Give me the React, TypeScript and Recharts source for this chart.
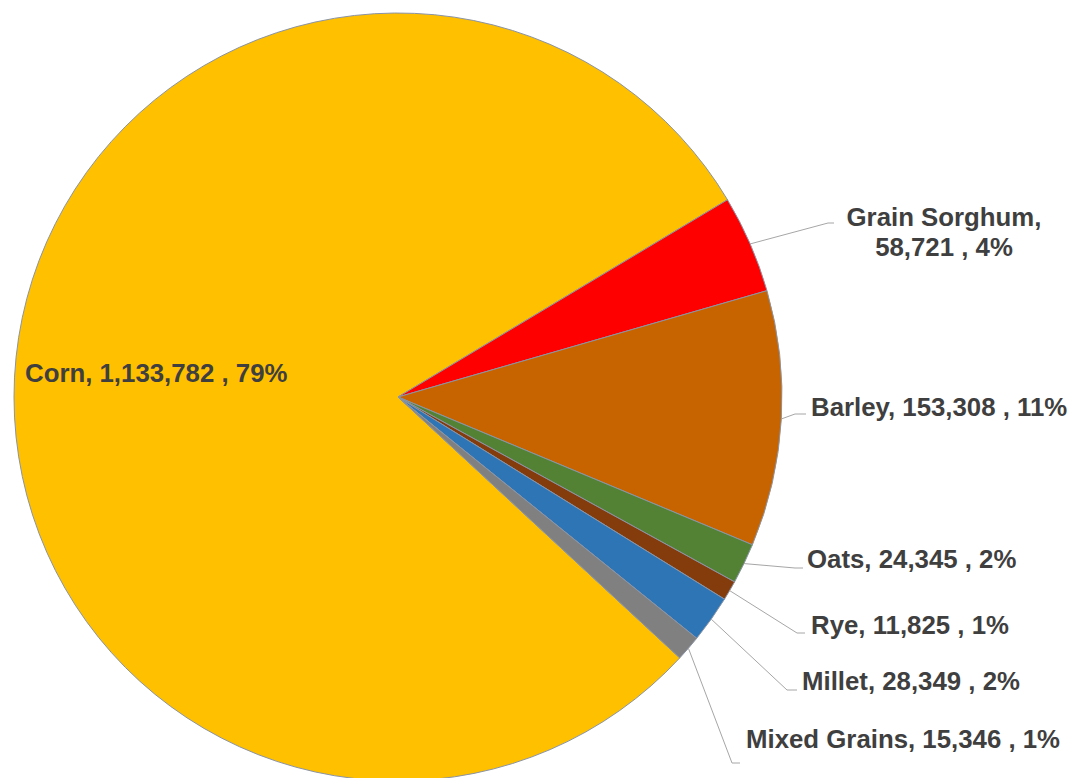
import React from "react";
import { PieChart, Pie, Cell } from "recharts";

const categories = ["Corn", "Grain Sorghum", "Barley", "Oats", "Rye", "Millet", "Mixed Grains"];
const values = [1133782, 58721, 153308, 24345, 11825, 28349, 15346];
const colors = ["#FFC000", "#FF0000", "#C86400", "#548235", "#843C0C", "#2E75B6", "#808080"];

const data = categories.map((name, i) => ({ name, value: values[i] }));

// percentages rounded so that they add up to 100 (largest remainder)
const total = values.reduce((a, b) => a + b, 0);
const rawPct = values.map((v) => (v / total) * 100);
const floored = rawPct.map((p) => Math.floor(p));
let missing = 100 - floored.reduce((a, b) => a + b, 0);
const order = rawPct.map((p, i) => ({ i, r: p - Math.floor(p) })).sort((a, b) => b.r - a.r);
const pctLabels = [...floored];
for (let k = 0; k < missing; k++) pctLabels[order[k].i] += 1;
const pctByName: Record<string, number> = {};
categories.forEach((c, i) => (pctByName[c] = pctLabels[i]));

// label layout (text placement and leader-line elbow), keyed by category
type Layout = { x: number; y: number; anchor: "start" | "middle"; lines: number; ex?: number; ey?: number; end?: number };
const labelLayout: Record<string, Layout> = {
  Corn: { x: 25, y: 382, anchor: "start", lines: 1 },
  "Grain Sorghum": { x: 944, y: 226, anchor: "middle", lines: 2, ex: 828, ey: 223, end: 834 },
  Barley: { x: 811, y: 416, anchor: "start", lines: 1, ex: 795, ey: 414, end: 806 },
  Oats: { x: 807, y: 568, anchor: "start", lines: 1, ex: 795, ey: 568, end: 803 },
  Rye: { x: 811, y: 634, anchor: "start", lines: 1, ex: 797, ey: 633, end: 805 },
  Millet: { x: 802, y: 690, anchor: "start", lines: 1, ex: 787, ey: 690, end: 797 },
  "Mixed Grains": { x: 746, y: 748, anchor: "start", lines: 1, ex: 732, ey: 763, end: 740 },
};

const RAD = Math.PI / 180;
const fmt = (v: number) => v.toLocaleString("en-US");

const renderLabel = (props: any) => {
  const { cx, cy, midAngle, outerRadius, name, value } = props;
  const lay = labelLayout[name];
  if (!lay) return null;
  const pct = pctByName[name] + "%";
  const textStyle = {
    fontFamily: "'Liberation Sans', Arial, sans-serif",
    fontWeight: 700,
    fontSize: 25.8,
    fill: "#3F3F3F",
  } as const;
  let leader = null;
  if (lay.ex !== undefined) {
    const sx = cx + outerRadius * Math.cos(-midAngle * RAD);
    const sy = cy + outerRadius * Math.sin(-midAngle * RAD);
    leader = (
      <polyline
        points={`${sx},${sy} ${lay.ex},${lay.ey} ${lay.end},${lay.ey}`}
        fill="none"
        stroke="#A6A6A6"
        strokeWidth={1}
      />
    );
  }
  return (
    <g key={`lbl-${name}`}>
      {leader}
      {lay.lines === 2 ? (
        <text x={lay.x} y={lay.y} textAnchor={lay.anchor} style={textStyle}>
          <tspan x={lay.x} y={lay.y}>{`${name},`}</tspan>
          <tspan x={lay.x} y={lay.y + 30}>{`${fmt(value)} , ${pct}`}</tspan>
        </text>
      ) : (
        <text x={lay.x} y={lay.y} textAnchor={lay.anchor} style={textStyle}>
          {`${name}, ${fmt(value)} , ${pct}`}
        </text>
      )}
    </g>
  );
};

export default function App() {
  return (
    <div style={{ position: "absolute", left: 0, top: 0, width: 1076, height: 778, background: "#fff" }}>
      <PieChart width={1076} height={778} margin={{ top: 0, right: 0, bottom: 0, left: 0 }}>
        <Pie
          data={data}
          dataKey="value"
          nameKey="name"
          cx={398}
          cy={397}
          outerRadius={384}
          startAngle={317.2}
          endAngle={-42.8}
          stroke="#8A94A6"
          strokeWidth={1}
          label={renderLabel}
          labelLine={false}
          isAnimationActive={false}
        >
          {data.map((d, i) => (
            <Cell key={d.name} fill={colors[i]} />
          ))}
        </Pie>
      </PieChart>
    </div>
  );
}
